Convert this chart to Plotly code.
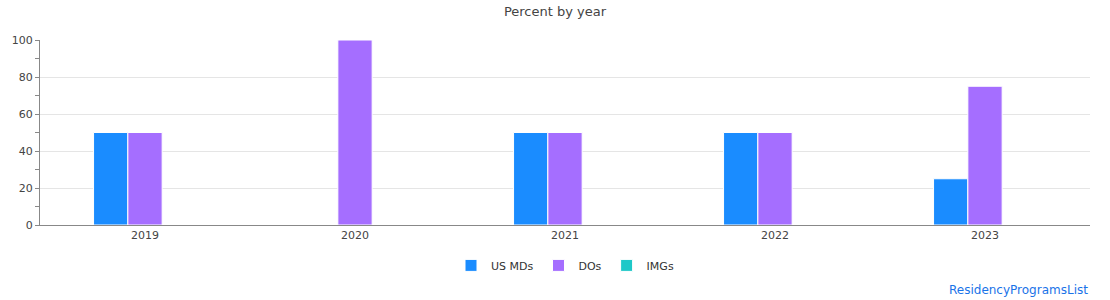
import plotly.graph_objects as go

years = ["2019", "2020", "2021", "2022", "2023"]
us_mds = [50, 0, 50, 50, 25]
dos = [50, 100, 50, 50, 75]
imgs = [0, 0, 0, 0, 0]

series = [
    ("US MDs", us_mds, "#1a8cff"),
    ("DOs", dos, "#a56eff"),
    ("IMGs", imgs, "#1ec8c8"),
]

fig = go.Figure()
for name, vals, color in series:
    fig.add_trace(go.Bar(
        x=years, y=vals, name=name,
        marker=dict(color=color, line=dict(color="white", width=1)),
        hovertemplate="%{x}: %{y}%<extra>" + name + "</extra>",
    ))

fig.update_layout(
    width=1110, height=300,
    margin=dict(l=40, r=20, t=40, b=75),
    paper_bgcolor="white", plot_bgcolor="white",
    font=dict(family="DejaVu Sans", size=11, color="#555"),
    title=dict(text="Percent by year", x=0.5, xanchor="center", y=0.963, yanchor="middle",
               font=dict(size=13, color="#444")),
    barmode="group", bargap=0.51, bargroupgap=0.0,
    showlegend=True,
    legend=dict(orientation="h", x=0.5, xanchor="center", y=-0.14, yanchor="top",
                font=dict(size=11, color="#333"), itemwidth=30, tracegroupgap=0),
    xaxis=dict(type="category", showline=True, linecolor="#888", linewidth=1,
               ticks="", showgrid=False, tickfont=dict(size=11, color="#444")),
    yaxis=dict(range=[0, 100], dtick=20, showline=True, linecolor="#888", linewidth=1,
               ticks="outside", ticklen=4, tickcolor="#888",
               gridcolor="#e5e5e5", zeroline=False,
               tickfont=dict(size=11, color="#444"),
               minor=dict(dtick=10, ticks="outside", ticklen=4, tickcolor="#888", showgrid=False)),
    annotations=[dict(text="ResidencyProgramsList", xref="paper", yref="paper",
                      x=1.0, y=-0.3, xanchor="right", yanchor="top", showarrow=False,
                      font=dict(size=12, color="#1a73e8"))],
)

fig.write_html("out.html")
